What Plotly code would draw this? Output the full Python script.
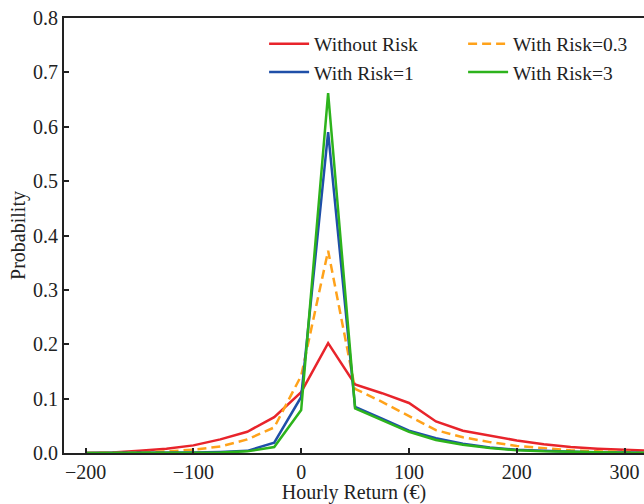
import plotly.graph_objects as go

returns = [-200, -175, -150, -125, -100, -75, -50, -25, 0, 25, 50, 75, 100, 125, 150, 175, 200, 225, 250, 275, 300, 325]
without_risk = [0.000, 0.001, 0.004, 0.008, 0.014, 0.025, 0.039, 0.066, 0.112, 0.202, 0.126, 0.110, 0.092, 0.058, 0.041, 0.032, 0.023, 0.016, 0.011, 0.008, 0.006, 0.004]
risk_03 = [0.000, 0.000, 0.001, 0.003, 0.006, 0.012, 0.025, 0.047, 0.142, 0.372, 0.118, 0.094, 0.068, 0.042, 0.029, 0.020, 0.013, 0.009, 0.005, 0.003, 0.002, 0.001]
risk_1 = [0.000, 0.000, 0.000, 0.000, 0.001, 0.002, 0.004, 0.019, 0.103, 0.590, 0.085, 0.063, 0.041, 0.027, 0.017, 0.010, 0.006, 0.004, 0.002, 0.001, 0.001, 0.000]
risk_3 = [0.000, 0.000, 0.000, 0.000, 0.000, 0.001, 0.003, 0.011, 0.079, 0.662, 0.082, 0.060, 0.039, 0.024, 0.015, 0.009, 0.005, 0.003, 0.002, 0.001, 0.000, 0.000]

series = [
    ("Without Risk", without_risk, "#e8242b", "solid"),
    ("With Risk=0.3", risk_03, "#ffa21a", "9px,5px"),
    ("With Risk=1", risk_1, "#1f4fa8", "solid"),
    ("With Risk=3", risk_3, "#2db31c", "solid"),
]

fig = go.Figure()
for name, vals, color, dash in series:
    fig.add_trace(go.Scatter(x=returns, y=vals, mode="lines", name=name,
                             line=dict(color=color, width=2.5, dash=dash)))

font = "Liberation Serif, Times New Roman, serif"
fig.update_layout(
    width=644, height=504,
    margin=dict(l=64, r=0, t=18, b=51, autoexpand=False),
    paper_bgcolor="white", plot_bgcolor="white",
    font=dict(family=font, size=20, color="#222"),
    showlegend=True,
    legend=dict(orientation="h", x=0.345, y=0.985, xanchor="left", yanchor="top",
                entrywidth=144, entrywidthmode="pixels",
                font=dict(family=font, size=19.5, color="#222"),
                bgcolor="rgba(0,0,0,0)", itemwidth=40, tracegroupgap=0),
    xaxis=dict(range=[-220, 318], tickvals=[-200, -100, 0, 100, 200, 300],
               automargin=False,
               showline=True, linecolor="#222", linewidth=2, mirror=True,
               ticks="inside", ticklen=5, tickwidth=1.5, tickcolor="#222",
               showgrid=False, zeroline=False,
               title=dict(text="Hourly Return (€)", standoff=2,
                          font=dict(family=font, size=20))),
    yaxis=dict(range=[0, 0.8], dtick=0.1, tickformat=".1f",
               automargin=False,
               showline=True, linecolor="#222", linewidth=2, mirror=False,
               ticks="inside", ticklen=5, tickwidth=1.5, tickcolor="#222",
               showgrid=False, zeroline=False,
               title=dict(text="Probability", standoff=2,
                          font=dict(family=font, size=20))),
)

fig.write_html("out.html")
